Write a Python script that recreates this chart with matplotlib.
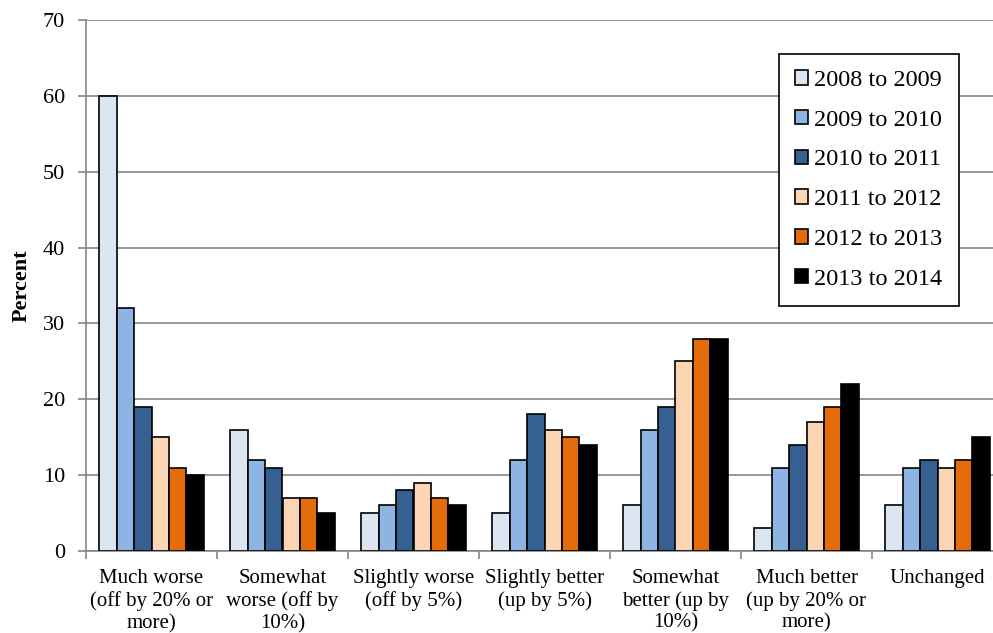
import numpy as np
import matplotlib.pyplot as plt
from matplotlib.ticker import FixedLocator

plt.rcParams['font.family'] = ['Liberation Serif', 'DejaVu Serif']

categories = ["Much worse\n(off by 20% or\nmore)", "Somewhat\nworse (off by\n10%)",
              "Slightly worse\n(off by 5%)", "Slightly better\n(up by 5%)",
              "Somewhat\nbetter (up by\n10%)", "Much better\n(up by 20% or\nmore)",
              "Unchanged"]
series = ["2008 to 2009", "2009 to 2010", "2010 to 2011",
          "2011 to 2012", "2012 to 2013", "2013 to 2014"]
v0809 = [60, 16, 5, 5, 6, 3, 6]
v0910 = [32, 12, 6, 12, 16, 11, 11]
v1011 = [19, 11, 8, 18, 19, 14, 12]
v1112 = [15, 7, 9, 16, 25, 17, 11]
v1213 = [11, 7, 7, 15, 28, 19, 12]
v1314 = [10, 5, 6, 14, 28, 22, 15]
colors = ["#DCE6F2", "#8EB4E3", "#376092", "#FCD5B5", "#E46C0A", "#000000"]

values = [v0809, v0910, v1011, v1112, v1213, v1314]

fig = plt.figure(figsize=(9.93, 6.33), dpi=100)
ax = fig.add_axes([86/993, 1-551/633, (1003-86)/993, (551-20)/633])

x = np.arange(len(categories))
w = 0.8 / len(series)
for i, (vals, c, lab) in enumerate(zip(values, colors, series)):
    ax.bar(x - 0.4 + w*(i+0.5), vals, width=w, color=c, edgecolor="black",
           linewidth=1.2, label=lab, zorder=3)

ax.set_xlim(-0.5, len(categories)-0.5)
ax.set_ylim(0, 70)
ax.set_yticks(range(0, 71, 10))
ax.tick_params(axis='y', labelsize=16, length=6, color="#868686", width=1.2, pad=9)
ax.set_xticks(x)
ax.set_xticklabels(categories, fontsize=15, linespacing=1.2)
ax.tick_params(axis='x', which='major', length=0, pad=13)
ax.xaxis.set_minor_locator(FixedLocator(np.arange(-0.5, len(categories), 1.0)))
ax.tick_params(axis='x', which='minor', length=6, color="#868686", width=1.2)
ax.grid(axis='y', color="#868686", linewidth=1.2, zorder=0)
for s in ["top", "right"]:
    ax.spines[s].set_visible(False)
for s in ["left", "bottom"]:
    ax.spines[s].set_color("#868686")
    ax.spines[s].set_linewidth(1.2)
ax.set_ylabel("Percent", fontsize=16, fontweight="bold", labelpad=8)

leg = ax.legend(loc="upper left", bbox_to_anchor=(779/993, 1-54/633),
                bbox_transform=fig.transFigure, borderaxespad=0, fontsize=17.5,
                fancybox=False, edgecolor="black", framealpha=1,
                handlelength=0.55, handleheight=0.55, handletextpad=0.25,
                labelspacing=0.77, borderpad=0.66)
leg.get_frame().set_linewidth(1.2)

fig.savefig("out.png", dpi=100)
